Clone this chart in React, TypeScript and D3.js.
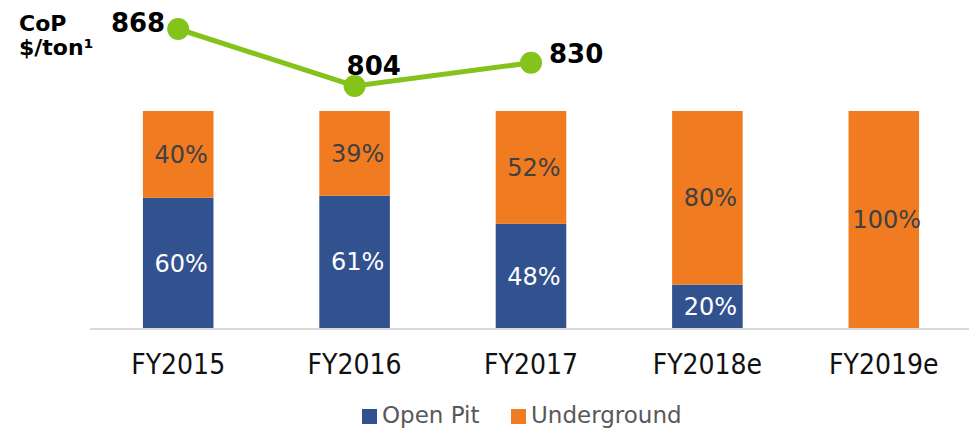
import React from "react";
import { scaleBand, scaleLinear, line } from "d3";

// data
const categories = ["FY2015", "FY2016", "FY2017", "FY2018e", "FY2019e"];
const openPit = [60, 61, 48, 20, 0];
const underground = [40, 39, 52, 80, 100];
const copYears = ["FY2015", "FY2016", "FY2017"];
const copValues = [868, 804, 830];

const WIDTH = 969;
const HEIGHT = 429;
const BLUE = "#31528f";
const ORANGE = "#f07b21";
const GREEN = "#84c31a";

// where each CoP label sits relative to its dot
const copLabelPos = [
  { dx: -13, dy: 3, anchor: "end" },
  { dx: -8, dy: -11, anchor: "start" },
  { dx: 18, dy: 0, anchor: "start" },
];

export default function App() {
  const x = scaleBand<string>()
    .domain(categories)
    .range([90, 972])
    .paddingInner(0.6)
    .paddingOuter(0.3);

  const y = scaleLinear().domain([0, 100]).range([328, 111]);
  const yCop = scaleLinear().domain([804, 868]).range([86, 29]);

  const cx = (c: string) => (x(c) as number) + x.bandwidth() / 2;

  const copPath = line<number>()
    .x((d, i) => cx(copYears[i]))
    .y((d) => yCop(d))(copValues);

  return (
    <svg
      width={WIDTH}
      height={HEIGHT}
      style={{ position: "absolute", left: 0, top: 0, background: "#fff" }}
    >
      {/* bars */}
      {categories.map((c, i) => {
        const op = openPit[i];
        const ug = underground[i];
        const x0 = x(c) as number;
        return (
          <g key={c}>
            {op > 0 && (
              <rect x={x0} y={y(op)} width={x.bandwidth()} height={y(0) - y(op)} fill={BLUE} />
            )}
            {ug > 0 && (
              <rect x={x0} y={y(op + ug)} width={x.bandwidth()} height={y(op) - y(op + ug)} fill={ORANGE} />
            )}
            {op > 0 && (
              <text
                x={cx(c) + 3}
                y={(y(0) + y(op)) / 2}
                dy="0.36em"
                textAnchor="middle"
                fill="#fff"
                fontFamily="DejaVu Sans"
                fontSize={24}
              >
                {op}%
              </text>
            )}
            {ug > 0 && (
              <text
                x={cx(c) + 3}
                y={(y(op) + y(op + ug)) / 2}
                dy="0.36em"
                textAnchor="middle"
                fill="#404040"
                fontFamily="DejaVu Sans"
                fontSize={24}
              >
                {ug}%
              </text>
            )}
            <text
              x={cx(c)}
              y={374}
              textAnchor="middle"
              fill="#111"
              fontFamily="DejaVu Sans Condensed"
              fontSize={28}
            >
              {c}
            </text>
          </g>
        );
      })}

      {/* baseline */}
      <line x1={90} x2={WIDTH} y1={y(0) + 1} y2={y(0) + 1} stroke="#d9d9d9" strokeWidth={2} />

      {/* CoP line */}
      <path d={copPath || ""} fill="none" stroke={GREEN} strokeWidth={5} />
      {copValues.map((v, i) => (
        <circle key={i} cx={cx(copYears[i])} cy={yCop(v)} r={11} fill={GREEN} />
      ))}
      {copValues.map((v, i) => (
        <text
          key={"l" + i}
          x={cx(copYears[i]) + copLabelPos[i].dx}
          y={yCop(v) + copLabelPos[i].dy}
          textAnchor={copLabelPos[i].anchor}
          fontFamily="DejaVu Sans"
          fontWeight="bold"
          fontSize={26}
          fill="#000"
        >
          {v}
        </text>
      ))}

      {/* axis title */}
      <text fontFamily="DejaVu Sans" fontWeight="bold" fontSize={22} fill="#000">
        <tspan x={19} y={31}>CoP</tspan>
        <tspan x={19} y={55}>$/ton¹</tspan>
      </text>

      {/* legend */}
      <g fontFamily="DejaVu Sans" fontSize={23} fill="#595959">
        <rect x={362} y={409} width={15} height={15} fill={BLUE} />
        <text x={382} y={423}>Open Pit</text>
        <rect x={511} y={409} width={15} height={15} fill={ORANGE} />
        <text x={531} y={423}>Underground</text>
      </g>
    </svg>
  );
}
